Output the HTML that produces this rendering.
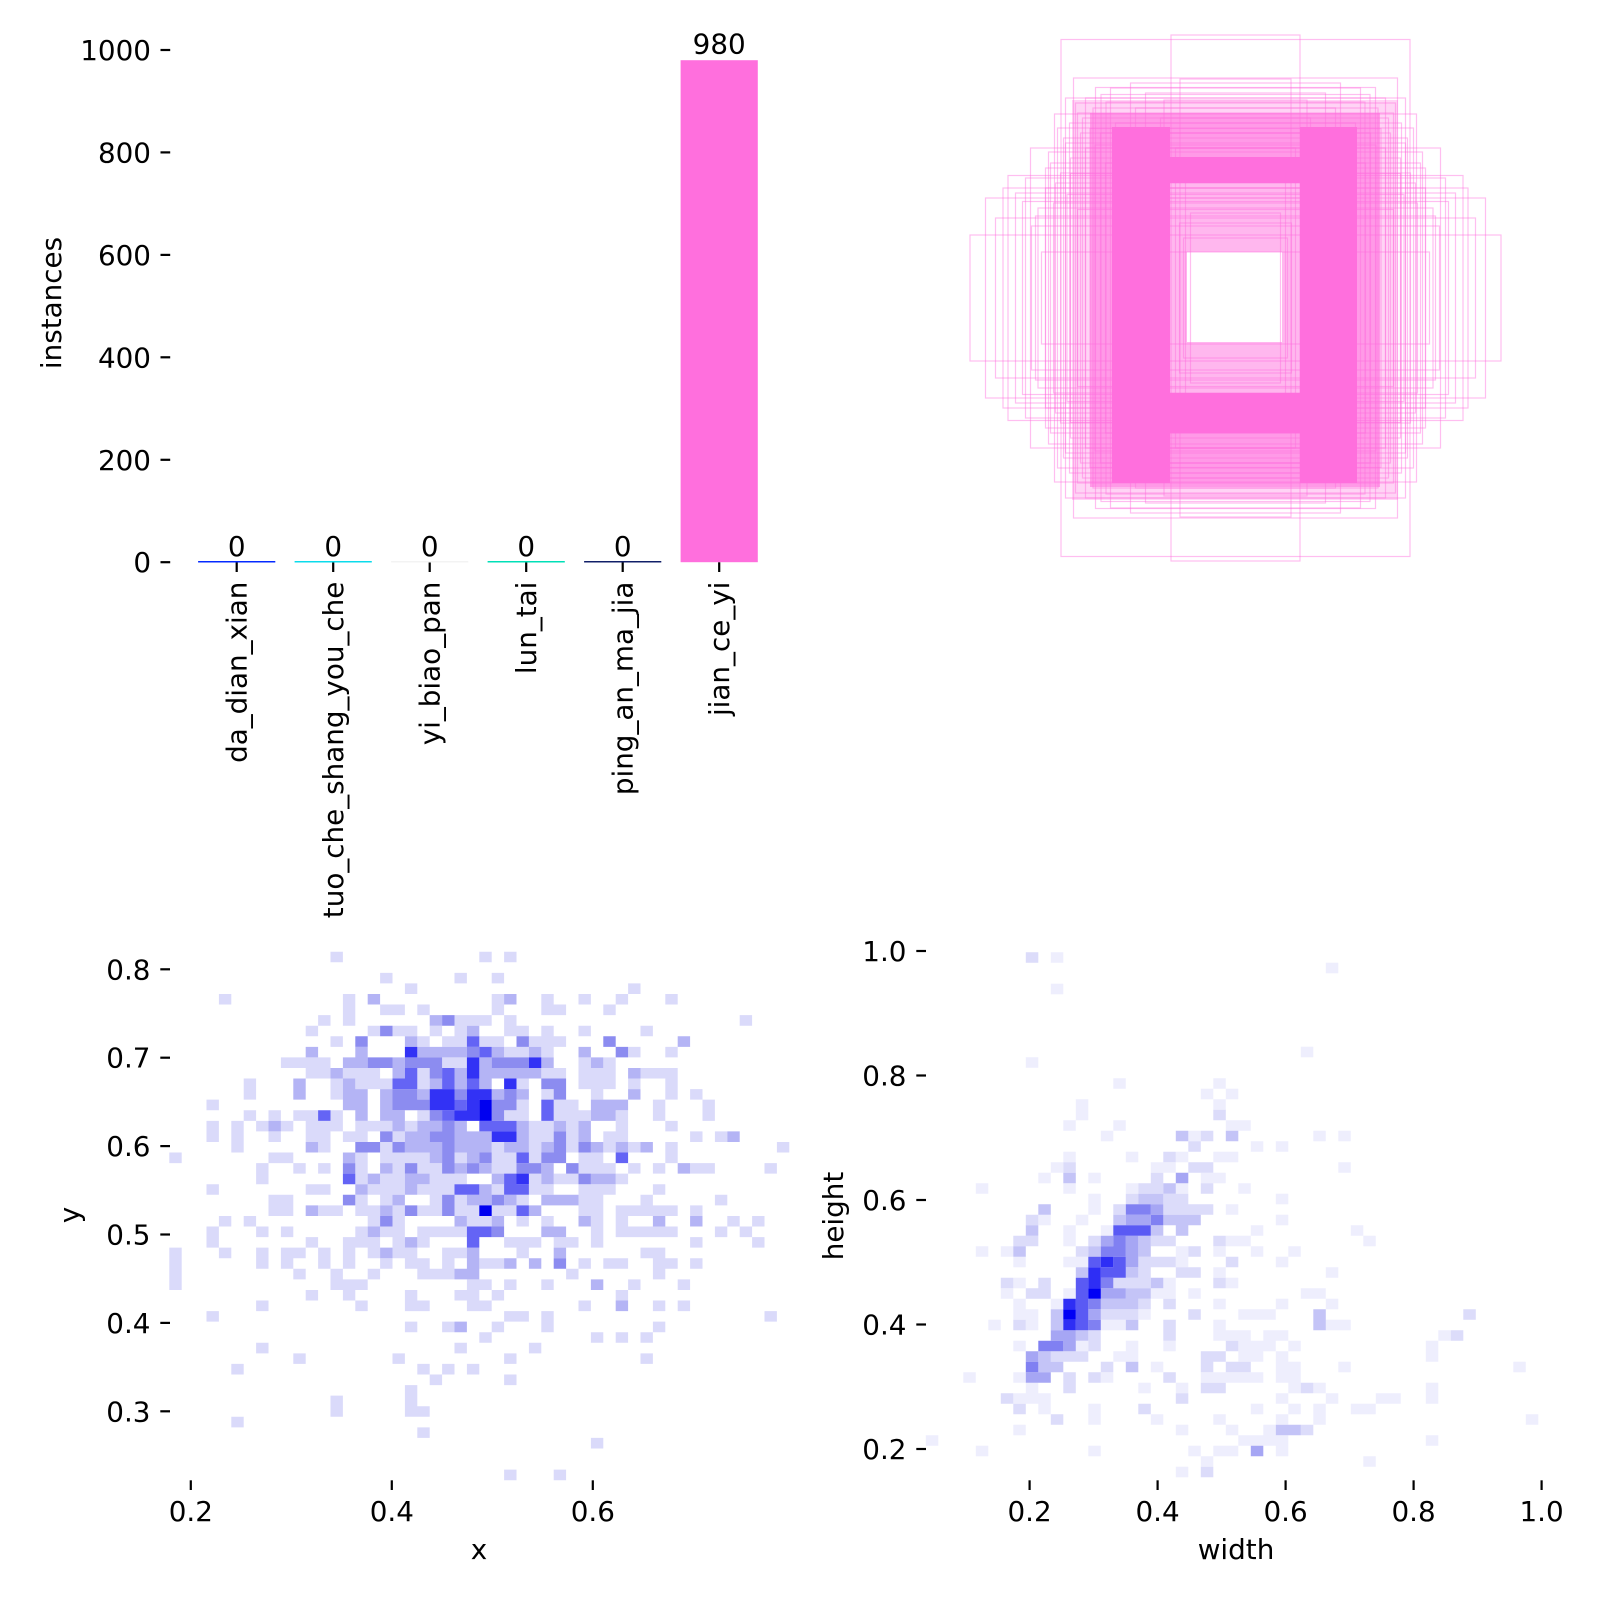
<!DOCTYPE html>
<html><head><meta charset="utf-8"><style>
html,body{margin:0;padding:0;background:#fff;}
svg{display:block;}
text{font-family:"DejaVu Sans","Liberation Sans",sans-serif;font-size:27.8px;fill:#000;}
</style></head><body>
<svg width="1600" height="1600" viewBox="0 0 1600 1600" xmlns="http://www.w3.org/2000/svg">
<rect width="1600" height="1600" fill="#fff"/>

<g stroke="#000" stroke-width="2.2">
<line x1="160.5" y1="562.2" x2="170.2" y2="562.2"/>
<line x1="160.5" y1="459.8" x2="170.2" y2="459.8"/>
<line x1="160.5" y1="357.3" x2="170.2" y2="357.3"/>
<line x1="160.5" y1="254.9" x2="170.2" y2="254.9"/>
<line x1="160.5" y1="152.4" x2="170.2" y2="152.4"/>
<line x1="160.5" y1="50" x2="170.2" y2="50"/>
<line x1="236.7" y1="562.2" x2="236.7" y2="572"/>
<line x1="333.2" y1="562.2" x2="333.2" y2="572"/>
<line x1="429.7" y1="562.2" x2="429.7" y2="572"/>
<line x1="526.2" y1="562.2" x2="526.2" y2="572"/>
<line x1="622.7" y1="562.2" x2="622.7" y2="572"/>
<line x1="719.2" y1="562.2" x2="719.2" y2="572"/>
</g>
<g text-anchor="end">
<text x="151" y="572.2">0</text>
<text x="151" y="469.8">200</text>
<text x="151" y="367.3">400</text>
<text x="151" y="264.9">600</text>
<text x="151" y="162.4">800</text>
<text x="151" y="60">1000</text>
</g>
<text transform="translate(61 303) rotate(-90)" text-anchor="middle">instances</text>

<rect x="680.6" y="60.2" width="77.2" height="502" fill="#FF6FDD"/>
<g stroke-width="1.5">
<line x1="198.1" y1="561.8" x2="275.3" y2="561.8" stroke="#042AFF"/>
<line x1="294.6" y1="561.8" x2="371.8" y2="561.8" stroke="#0BDBEB"/>
<line x1="391.1" y1="561.8" x2="468.3" y2="561.8" stroke="#F3F3F3"/>
<line x1="487.6" y1="561.8" x2="564.8" y2="561.8" stroke="#00DFB7"/>
<line x1="584.1" y1="561.8" x2="661.3" y2="561.8" stroke="#111F68"/>
</g>
<g text-anchor="middle">
<text x="236.7" y="556">0</text>
<text x="333.2" y="556">0</text>
<text x="429.7" y="556">0</text>
<text x="526.2" y="556">0</text>
<text x="622.7" y="556">0</text>
<text x="719.2" y="53.7">980</text>
</g>
<g text-anchor="end">
<text transform="translate(246.3 581.6) rotate(-90)">da_dian_xian</text>
<text transform="translate(342.8 581.6) rotate(-90)">tuo_che_shang_you_che</text>
<text transform="translate(439.3 581.6) rotate(-90)">yi_biao_pan</text>
<text transform="translate(535.8 581.6) rotate(-90)">lun_tai</text>
<text transform="translate(632.3 581.6) rotate(-90)">ping_an_ma_jia</text>
<text transform="translate(728.8 581.6) rotate(-90)">jian_ce_yi</text>
</g>

<path d="M1072 100H1398V500H1072ZM1090 113H1380V487H1090Z" fill="#FF6FDD" fill-opacity="0.3" fill-rule="evenodd"/>
<path d="M1090 113H1380V487H1090ZM1170 183H1300V393H1170Z" fill="#FF6FDD" fill-opacity="0.7" fill-rule="evenodd"/>
<path d="M1170 183H1300V393H1170ZM1187 252H1282V342H1187Z" fill="#FF6FDD" fill-opacity="0.5" fill-rule="evenodd"/>
<g fill="#FF6FDD">
<rect x="1112" y="127" width="58" height="356"/>
<rect x="1300" y="127" width="57" height="356"/>
<rect x="1127" y="157" width="206" height="26"/>
<rect x="1127" y="393" width="206" height="40"/>
</g>
<g transform="translate(1235.5 298)" fill="none" stroke="#FF6FDD" stroke-width="1.2" stroke-opacity="0.45">
<rect x="-265.5" y="-63" width="531" height="126"/>
<rect x="-232.5" y="-110" width="465" height="220"/>
<rect x="-213" y="-96.5" width="426" height="193"/>
<rect x="-204" y="-72" width="408" height="144"/>
<rect x="-194" y="-46" width="388" height="92"/>
<rect x="-174.5" y="-258.5" width="349" height="517"/>
<rect x="-64.5" y="-263" width="129" height="526"/>
<rect x="-162" y="-220" width="324" height="440"/>
<rect x="-187" y="-146" width="374" height="292"/>
<rect x="-181" y="-184" width="362" height="368"/>
<rect x="-140" y="-210.5" width="280" height="421"/>
<rect x="-55.5" y="-219" width="111" height="438"/>
<rect x="-90" y="-205" width="180" height="410"/>
<rect x="-71.5" y="-198" width="143" height="396"/>
<rect x="-134.5" y="-203.5" width="269" height="407"/>
<rect x="-129.5" y="-196" width="259" height="392"/>
<rect x="-153" y="-180" width="306" height="360"/>
<rect x="-165" y="-124.5" width="330" height="249"/>
<rect x="-145.5" y="-169.5" width="291" height="339"/>
<rect x="-140.5" y="-153" width="281" height="306"/>
<rect x="-158" y="-88.5" width="316" height="177"/>
<rect x="-168.5" y="-103.5" width="337" height="207"/>
<rect x="-120" y="-175" width="240" height="350"/>
<rect x="-110" y="-150" width="220" height="300"/>
<rect x="-100" y="-190" width="200" height="380"/>
<rect x="-150" y="-150" width="300" height="300"/>
<rect x="-125" y="-210" width="250" height="420"/>
<rect x="-175" y="-125" width="350" height="250"/>
<rect x="-80" y="-165" width="160" height="330"/>
<rect x="-95" y="-130" width="190" height="260"/>
<rect x="-115" y="-120" width="230" height="240"/>
<rect x="-135" y="-165" width="270" height="330"/>
<rect x="-142.5" y="-190" width="285" height="380"/>
<rect x="-105" y="-215" width="210" height="430"/>
<rect x="-75" y="-180" width="150" height="360"/>
<rect x="-60" y="-150" width="120" height="300"/>
<rect x="-50" y="-125" width="100" height="250"/>
<rect x="-85" y="-100" width="170" height="200"/>
<rect x="-45" y="-85" width="90" height="170"/>
<rect x="-70" y="-110" width="140" height="220"/>
<rect x="-130" y="-135" width="260" height="270"/>
<rect x="-155" y="-165" width="310" height="330"/>
<rect x="-170" y="-155" width="340" height="310"/>
<rect x="-180" y="-115" width="360" height="230"/>
<rect x="-190" y="-130" width="380" height="260"/>
<rect x="-197.5" y="-90" width="395" height="180"/>
<rect x="-220" y="-105" width="440" height="210"/>
<rect x="-227.5" y="-122.5" width="455" height="245"/>
<rect x="-240" y="-80" width="480" height="160"/>
<rect x="-250" y="-100" width="500" height="200"/>
<rect x="-205" y="-150" width="410" height="300"/>
<rect x="-210" y="-120" width="420" height="240"/>
<rect x="-160" y="-195" width="320" height="390"/>
<rect x="-166" y="-175" width="332" height="350"/>
<rect x="-170" y="-200" width="340" height="400"/>
<rect x="-158" y="-185" width="316" height="370"/>
<rect x="-150" y="-200" width="300" height="400"/>
<rect x="-172" y="-160" width="344" height="320"/>
<rect x="-165" y="-140" width="330" height="280"/>
<rect x="-178" y="-170" width="356" height="340"/>
<rect x="-185" y="-135" width="370" height="270"/>
<rect x="-190" y="-110" width="380" height="220"/>
<rect x="-200" y="-82" width="400" height="164"/>
<rect x="-182" y="-95" width="364" height="190"/>
<rect x="-52" y="-60" width="104" height="120"/>
<rect x="-56" y="-75" width="112" height="150"/>
</g>

<g transform="translate(169.3 951.7) scale(12.4 10.57)">
<path fill="#dadafa" d="M13 0h1v1h-1zM25 0h1v1h-1zM27 0h1v1h-1zM17 2h1v1h-1zM23 2h1v1h-1zM26 2h1v1h-1zM19 3h1v1h-1zM37 3h1v1h-1zM4 4h1v1h-1zM14 4h1v1h-1zM26 4h1v1h-1zM30 4h1v1h-1zM33 4h1v1h-1zM36 4h1v1h-1zM40 4h1v1h-1zM14 5h1v1h-1zM17 5h2v1h-2zM20 5h1v1h-1zM26 5h1v1h-1zM30 5h2v1h-2zM35 5h1v1h-1zM12 6h1v1h-1zM14 6h1v1h-1zM23 6h3v1h-3zM27 6h1v1h-1zM46 6h1v1h-1zM11 7h1v1h-1zM16 7h1v1h-1zM18 7h2v1h-2zM21 7h1v1h-1zM23 7h1v1h-1zM27 7h2v1h-2zM30 7h1v1h-1zM33 7h1v1h-1zM38 7h1v1h-1zM13 8h1v1h-1zM20 8h1v1h-1zM22 8h2v1h-2zM25 8h2v1h-2zM29 8h3v1h-3zM27 9h2v1h-2zM30 9h1v1h-1zM37 9h1v1h-1zM40 9h1v1h-1zM9 10h4v1h-4zM22 10h2v1h-2zM33 10h1v1h-1zM35 10h1v1h-1zM11 11h2v1h-2zM14 11h3v1h-3zM20 11h1v1h-1zM30 11h2v1h-2zM33 11h3v1h-3zM38 11h3v1h-3zM6 12h1v1h-1zM13 12h1v1h-1zM15 12h3v1h-3zM20 12h1v1h-1zM28 12h1v1h-1zM33 12h3v1h-3zM37 12h1v1h-1zM40 12h1v1h-1zM6 13h1v1h-1zM13 13h1v1h-1zM30 13h1v1h-1zM34 13h1v1h-1zM40 13h1v1h-1zM42 13h1v1h-1zM3 14h1v1h-1zM28 14h1v1h-1zM31 14h2v1h-2zM39 14h1v1h-1zM43 14h1v1h-1zM6 15h1v1h-1zM8 15h1v1h-1zM10 15h2v1h-2zM13 15h1v1h-1zM20 15h1v1h-1zM27 15h2v1h-2zM31 15h3v1h-3zM36 15h1v1h-1zM39 15h1v1h-1zM43 15h1v1h-1zM3 16h1v1h-1zM5 16h1v1h-1zM7 16h1v1h-1zM9 16h1v1h-1zM11 16h3v1h-3zM15 16h3v1h-3zM19 16h1v1h-1zM29 16h2v1h-2zM32 16h1v1h-1zM36 16h1v1h-1zM40 16h1v1h-1zM3 17h1v1h-1zM5 17h1v1h-1zM8 17h1v1h-1zM11 17h2v1h-2zM14 17h2v1h-2zM18 17h1v1h-1zM29 17h2v1h-2zM32 17h1v1h-1zM35 17h2v1h-2zM42 17h1v1h-1zM44 17h1v1h-1zM5 18h1v1h-1zM12 18h1v1h-1zM17 18h1v1h-1zM26 18h1v1h-1zM29 18h1v1h-1zM32 18h1v1h-1zM35 18h1v1h-1zM37 18h1v1h-1zM40 18h1v1h-1zM49 18h1v1h-1zM0 19h1v1h-1zM8 19h2v1h-2zM15 19h1v1h-1zM17 19h4v1h-4zM23 19h1v1h-1zM26 19h2v1h-2zM29 19h1v1h-1zM33 19h2v1h-2zM40 19h1v1h-1zM7 20h1v1h-1zM10 20h1v1h-1zM12 20h1v1h-1zM15 20h1v1h-1zM18 20h1v1h-1zM20 20h2v1h-2zM26 20h2v1h-2zM33 20h3v1h-3zM37 20h1v1h-1zM39 20h1v1h-1zM42 20h2v1h-2zM48 20h1v1h-1zM7 21h1v1h-1zM15 21h1v1h-1zM17 21h2v1h-2zM21 21h3v1h-3zM29 21h1v1h-1zM31 21h2v1h-2zM36 21h1v1h-1zM3 22h1v1h-1zM11 22h2v1h-2zM16 22h3v1h-3zM20 22h3v1h-3zM26 22h1v1h-1zM29 22h2v1h-2zM33 22h3v1h-3zM39 22h1v1h-1zM8 23h2v1h-2zM15 23h1v1h-1zM17 23h1v1h-1zM21 23h1v1h-1zM23 23h1v1h-1zM28 23h1v1h-1zM33 23h2v1h-2zM38 23h1v1h-1zM44 23h1v1h-1zM8 24h2v1h-2zM12 24h2v1h-2zM15 24h2v1h-2zM18 24h1v1h-1zM20 24h2v1h-2zM23 24h2v1h-2zM26 24h2v1h-2zM33 24h2v1h-2zM36 24h5v1h-5zM42 24h1v1h-1zM4 25h1v1h-1zM6 25h1v1h-1zM16 25h1v1h-1zM18 25h1v1h-1zM24 25h2v1h-2zM28 25h1v1h-1zM30 25h1v1h-1zM34 25h1v1h-1zM36 25h1v1h-1zM45 25h1v1h-1zM47 25h1v1h-1zM3 26h1v1h-1zM7 26h1v1h-1zM9 26h1v1h-1zM15 26h1v1h-1zM17 26h2v1h-2zM20 26h4v1h-4zM34 26h1v1h-1zM36 26h5v1h-5zM44 26h1v1h-1zM46 26h1v1h-1zM3 27h1v1h-1zM11 27h1v1h-1zM14 27h3v1h-3zM18 27h1v1h-1zM20 27h1v1h-1zM27 27h3v1h-3zM31 27h2v1h-2zM34 27h1v1h-1zM42 27h1v1h-1zM47 27h1v1h-1zM0 28h1v1h-1zM4 28h1v1h-1zM7 28h1v1h-1zM9 28h2v1h-2zM12 28h1v1h-1zM14 28h1v1h-1zM16 28h1v1h-1zM18 28h2v1h-2zM22 28h2v1h-2zM28 28h1v1h-1zM38 28h2v1h-2zM0 29h1v1h-1zM7 29h1v1h-1zM9 29h1v1h-1zM12 29h1v1h-1zM14 29h1v1h-1zM17 29h1v1h-1zM19 29h2v1h-2zM22 29h1v1h-1zM25 29h2v1h-2zM33 29h1v1h-1zM35 29h2v1h-2zM39 29h2v1h-2zM42 29h1v1h-1zM0 30h1v1h-1zM10 30h1v1h-1zM13 30h1v1h-1zM16 30h1v1h-1zM20 30h3v1h-3zM32 30h1v1h-1zM39 30h1v1h-1zM0 31h1v1h-1zM13 31h3v1h-3zM24 31h2v1h-2zM27 31h1v1h-1zM30 31h1v1h-1zM37 31h1v1h-1zM41 31h1v1h-1zM11 32h1v1h-1zM14 32h1v1h-1zM19 32h1v1h-1zM23 32h2v1h-2zM26 32h1v1h-1zM36 32h1v1h-1zM7 33h1v1h-1zM15 33h1v1h-1zM19 33h2v1h-2zM24 33h2v1h-2zM33 33h1v1h-1zM39 33h1v1h-1zM41 33h1v1h-1zM3 34h1v1h-1zM27 34h2v1h-2zM30 34h1v1h-1zM48 34h1v1h-1zM19 35h1v1h-1zM22 35h1v1h-1zM26 35h1v1h-1zM30 35h1v1h-1zM39 35h1v1h-1zM25 36h1v1h-1zM34 36h1v1h-1zM36 36h1v1h-1zM38 36h1v1h-1zM7 37h1v1h-1zM23 37h1v1h-1zM29 37h1v1h-1zM10 38h1v1h-1zM18 38h1v1h-1zM27 38h1v1h-1zM38 38h1v1h-1zM5 39h1v1h-1zM20 39h1v1h-1zM22 39h1v1h-1zM24 39h1v1h-1zM21 40h1v1h-1zM27 40h1v1h-1zM19 41h1v1h-1zM13 42h1v1h-1zM19 42h1v1h-1zM13 43h1v1h-1zM19 43h2v1h-2zM5 44h1v1h-1zM20 45h1v1h-1zM34 46h1v1h-1zM27 49h1v1h-1zM31 49h1v1h-1z"/>
<path fill="#b4b4f5" d="M16 4h1v1h-1zM27 4h1v1h-1zM21 6h1v1h-1zM24 7h1v1h-1zM19 8h1v1h-1zM41 8h1v1h-1zM11 9h1v1h-1zM15 9h1v1h-1zM20 9h4v1h-4zM26 9h1v1h-1zM29 9h1v1h-1zM33 9h1v1h-1zM14 10h2v1h-2zM18 10h1v1h-1zM25 10h1v1h-1zM30 10h1v1h-1zM34 10h1v1h-1zM13 11h1v1h-1zM18 11h1v1h-1zM23 11h1v1h-1zM25 11h5v1h-5zM37 11h1v1h-1zM10 12h1v1h-1zM14 12h1v1h-1zM21 12h1v1h-1zM23 12h1v1h-1zM25 12h1v1h-1zM10 13h1v1h-1zM14 13h2v1h-2zM17 13h1v1h-1zM20 13h1v1h-1zM26 13h1v1h-1zM28 13h1v1h-1zM37 13h1v1h-1zM14 14h2v1h-2zM17 14h1v1h-1zM34 14h3v1h-3zM15 15h1v1h-1zM17 15h2v1h-2zM34 15h2v1h-2zM8 16h1v1h-1zM18 16h1v1h-1zM20 16h2v1h-2zM23 16h1v1h-1zM28 16h1v1h-1zM31 16h1v1h-1zM33 16h1v1h-1zM19 17h2v1h-2zM23 17h3v1h-3zM28 17h1v1h-1zM33 17h1v1h-1zM45 17h1v1h-1zM11 18h1v1h-1zM19 18h3v1h-3zM23 18h3v1h-3zM27 18h2v1h-2zM30 18h1v1h-1zM34 18h1v1h-1zM36 18h1v1h-1zM38 18h1v1h-1zM14 19h1v1h-1zM21 19h1v1h-1zM24 19h1v1h-1zM17 20h1v1h-1zM23 20h1v1h-1zM25 20h1v1h-1zM30 20h1v1h-1zM41 20h1v1h-1zM16 21h1v1h-1zM19 21h2v1h-2zM26 21h1v1h-1zM30 21h1v1h-1zM34 21h2v1h-2zM15 22h1v1h-1zM19 22h1v1h-1zM25 22h1v1h-1zM18 23h1v1h-1zM24 23h2v1h-2zM27 23h1v1h-1zM30 23h3v1h-3zM11 24h1v1h-1zM17 24h1v1h-1zM29 24h1v1h-1zM23 25h1v1h-1zM26 25h1v1h-1zM33 25h1v1h-1zM39 25h1v1h-1zM42 25h1v1h-1zM16 26h1v1h-1zM30 26h2v1h-2zM19 27h1v1h-1zM17 28h1v1h-1zM24 28h1v1h-1zM31 28h1v1h-1zM24 29h1v1h-1zM27 29h1v1h-1zM29 29h1v1h-1zM23 30h2v1h-2zM34 31h1v1h-1zM36 33h1v1h-1zM23 35h1v1h-1z"/>
<path fill="#8c8cf0" d="M22 6h1v1h-1zM17 7h1v1h-1zM15 8h1v1h-1zM28 8h1v1h-1zM35 8h1v1h-1zM24 9h1v1h-1zM36 9h1v1h-1zM16 10h2v1h-2zM19 10h3v1h-3zM26 10h3v1h-3zM21 11h1v1h-1zM30 12h2v1h-2zM18 13h2v1h-2zM23 13h1v1h-1zM27 13h1v1h-1zM31 13h1v1h-1zM18 14h3v1h-3zM26 14h2v1h-2zM21 15h1v1h-1zM26 15h1v1h-1zM22 16h1v1h-1zM17 17h1v1h-1zM21 17h2v1h-2zM31 17h1v1h-1zM15 18h2v1h-2zM18 18h1v1h-1zM22 18h1v1h-1zM31 18h1v1h-1zM33 18h1v1h-1zM22 19h1v1h-1zM25 19h1v1h-1zM30 19h2v1h-2zM14 20h1v1h-1zM19 20h1v1h-1zM22 20h1v1h-1zM24 20h1v1h-1zM28 20h2v1h-2zM32 20h1v1h-1zM33 21h1v1h-1zM14 23h1v1h-1zM22 23h1v1h-1zM26 23h1v1h-1zM19 24h1v1h-1zM22 24h1v1h-1zM17 25h1v1h-1zM26 26h1v1h-1zM31 29h1v1h-1z"/>
<path fill="#6464f5" d="M24 8h1v1h-1zM25 9h1v1h-1zM19 11h1v1h-1zM22 11h1v1h-1zM18 12h2v1h-2zM22 12h1v1h-1zM24 12h1v1h-1zM23 14h1v1h-1zM30 14h1v1h-1zM12 15h1v1h-1zM22 15h1v1h-1zM30 15h1v1h-1zM25 16h3v1h-3zM28 19h1v1h-1zM36 19h1v1h-1zM14 21h1v1h-1zM27 21h1v1h-1zM23 22h2v1h-2zM27 22h2v1h-2zM28 24h1v1h-1zM24 26h2v1h-2zM24 27h1v1h-1z"/>
<path fill="#3232f5" d="M19 9h1v1h-1zM24 10h1v1h-1zM29 10h1v1h-1zM24 11h1v1h-1zM27 12h1v1h-1zM21 13h2v1h-2zM24 13h2v1h-2zM21 14h2v1h-2zM24 14h1v1h-1zM23 15h2v1h-2zM26 17h2v1h-2zM28 21h1v1h-1z"/>
<path fill="#0000f0" d="M25 14h1v1h-1zM25 15h1v1h-1zM25 24h1v1h-1z"/>
</g>
<g stroke="#000" stroke-width="2.2">
<line x1="160.3" y1="969.3" x2="170" y2="969.3"/>
<line x1="160.3" y1="1057.7" x2="170" y2="1057.7"/>
<line x1="160.3" y1="1146.1" x2="170" y2="1146.1"/>
<line x1="160.3" y1="1234.5" x2="170" y2="1234.5"/>
<line x1="160.3" y1="1322.9" x2="170" y2="1322.9"/>
<line x1="160.3" y1="1411.3" x2="170" y2="1411.3"/>
<line x1="190.8" y1="1480.3" x2="190.8" y2="1490"/>
<line x1="391.8" y1="1480.3" x2="391.8" y2="1490"/>
<line x1="592.8" y1="1480.3" x2="592.8" y2="1490"/>
</g>
<g text-anchor="end">
<text x="150.5" y="979.3">0.8</text>
<text x="150.5" y="1067.7">0.7</text>
<text x="150.5" y="1156.1">0.6</text>
<text x="150.5" y="1244.5">0.5</text>
<text x="150.5" y="1332.9">0.4</text>
<text x="150.5" y="1421.3">0.3</text>
</g>
<g text-anchor="middle">
<text x="190.8" y="1521">0.2</text>
<text x="391.8" y="1521">0.4</text>
<text x="592.8" y="1521">0.6</text>
<text x="479" y="1559">x</text>
</g>
<text transform="translate(79 1215) rotate(-90)" text-anchor="middle">y</text>

<g transform="translate(925.8 952.3) scale(12.5 10.5)">
<path fill="#eeeefd" d="M10 0h1v1h-1zM32 1h1v1h-1zM10 3h1v1h-1zM30 9h1v1h-1zM8 10h1v1h-1zM15 12h1v1h-1zM23 12h1v1h-1zM22 13h1v1h-1zM24 13h1v1h-1zM12 14h1v1h-1zM23 14h1v1h-1zM12 15h1v1h-1zM11 16h1v1h-1zM15 16h1v1h-1zM24 16h2v1h-2zM14 17h1v1h-1zM21 17h1v1h-1zM31 17h1v1h-1zM33 17h1v1h-1zM26 18h1v1h-1zM28 18h1v1h-1zM11 19h1v1h-1zM16 19h1v1h-1zM20 19h1v1h-1zM23 19h2v1h-2zM10 20h1v1h-1zM18 20h2v1h-2zM33 20h1v1h-1zM9 21h1v1h-1zM13 21h1v1h-1zM22 21h2v1h-2zM4 22h1v1h-1zM11 22h1v1h-1zM16 22h1v1h-1zM20 22h1v1h-1zM25 22h1v1h-1zM13 23h1v1h-1zM28 23h1v1h-1zM13 24h1v1h-1zM24 24h1v1h-1zM9 25h1v1h-1zM12 25h1v1h-1zM28 25h1v1h-1zM11 26h1v1h-1zM14 26h1v1h-1zM26 26h1v1h-1zM34 26h1v1h-1zM11 27h1v1h-1zM24 27h2v1h-2zM35 27h1v1h-1zM4 28h1v1h-1zM6 28h1v1h-1zM20 28h1v1h-1zM23 28h1v1h-1zM26 28h1v1h-1zM29 28h1v1h-1zM7 29h1v1h-1zM11 29h2v1h-2zM20 29h1v1h-1zM28 29h1v1h-1zM23 30h1v1h-1zM32 30h1v1h-1zM7 31h1v1h-1zM19 31h1v1h-1zM24 31h1v1h-1zM6 32h1v1h-1zM11 32h1v1h-1zM18 32h2v1h-2zM21 32h1v1h-1zM30 32h2v1h-2zM7 33h1v1h-1zM10 33h1v1h-1zM23 33h1v1h-1zM28 33h1v1h-1zM32 33h1v1h-1zM7 34h2v1h-2zM17 34h1v1h-1zM25 34h3v1h-3zM5 35h1v1h-1zM8 35h1v1h-1zM14 35h2v1h-2zM23 35h1v1h-1zM32 35h2v1h-2zM23 36h3v1h-3zM27 36h2v1h-2zM41 36h1v1h-1zM7 37h1v1h-1zM12 37h1v1h-1zM16 37h1v1h-1zM19 37h1v1h-1zM25 37h3v1h-3zM29 37h1v1h-1zM40 37h1v1h-1zM15 38h2v1h-2zM25 38h2v1h-2zM28 38h1v1h-1zM40 38h1v1h-1zM18 39h1v1h-1zM28 39h2v1h-2zM33 39h1v1h-1zM47 39h1v1h-1zM3 40h1v1h-1zM7 40h1v1h-1zM14 40h1v1h-1zM22 40h5v1h-5zM28 40h2v1h-2zM8 41h1v1h-1zM17 41h1v1h-1zM20 41h1v1h-1zM29 41h1v1h-1zM31 41h1v1h-1zM40 41h1v1h-1zM7 42h3v1h-3zM28 42h1v1h-1zM32 42h1v1h-1zM36 42h2v1h-2zM40 42h1v1h-1zM9 43h1v1h-1zM13 43h1v1h-1zM26 43h1v1h-1zM29 43h1v1h-1zM31 43h1v1h-1zM34 43h2v1h-2zM13 44h1v1h-1zM18 44h1v1h-1zM23 44h1v1h-1zM28 44h1v1h-1zM31 44h1v1h-1zM48 44h1v1h-1zM7 45h1v1h-1zM20 45h1v1h-1zM24 45h1v1h-1zM27 45h1v1h-1zM0 46h1v1h-1zM25 46h4v1h-4zM40 46h1v1h-1zM4 47h1v1h-1zM13 47h1v1h-1zM21 47h1v1h-1zM23 47h2v1h-2zM28 47h1v1h-1zM22 48h1v1h-1zM35 48h1v1h-1zM20 49h1v1h-1z"/>
<path fill="#dcdcfa" d="M8 0h1v1h-1zM23 15h1v1h-1zM22 17h1v1h-1zM21 18h1v1h-1zM19 19h1v1h-1zM11 20h1v1h-1zM21 20h2v1h-2zM18 21h1v1h-1zM17 22h2v1h-2zM22 22h1v1h-1zM16 23h1v1h-1zM19 23h2v1h-2zM15 24h1v1h-1zM19 24h4v1h-4zM8 25h1v1h-1zM7 27h2v1h-2zM13 27h1v1h-1zM18 27h2v1h-2zM23 27h1v1h-1zM12 28h1v1h-1zM21 28h1v1h-1zM17 29h3v1h-3zM24 29h1v1h-1zM17 30h1v1h-1zM20 30h2v1h-2zM6 31h1v1h-1zM9 31h1v1h-1zM15 31h3v1h-3zM23 31h1v1h-1zM8 32h2v1h-2zM17 33h1v1h-1zM19 33h1v1h-1zM14 34h3v1h-3zM21 34h1v1h-1zM43 34h1v1h-1zM7 35h1v1h-1zM19 35h1v1h-1zM13 36h1v1h-1zM19 36h1v1h-1zM42 36h1v1h-1zM13 37h1v1h-1zM24 37h1v1h-1zM10 38h3v1h-3zM22 38h2v1h-2zM14 39h1v1h-1zM22 39h1v1h-1zM24 39h2v1h-2zM11 40h1v1h-1zM13 40h1v1h-1zM19 40h1v1h-1zM11 41h1v1h-1zM22 41h2v1h-2zM30 41h1v1h-1zM6 42h1v1h-1zM20 42h1v1h-1zM7 43h1v1h-1zM17 43h1v1h-1zM10 44h1v1h-1zM30 45h1v1h-1zM22 49h1v1h-1z"/>
<path fill="#c4c4f7" d="M20 17h1v1h-1zM24 17h1v1h-1zM11 21h1v1h-1zM19 22h1v1h-1zM17 23h2v1h-2zM9 24h1v1h-1zM15 25h1v1h-1zM19 25h3v1h-3zM8 26h1v1h-1zM18 26h1v1h-1zM20 26h1v1h-1zM17 27h1v1h-1zM7 28h1v1h-1zM13 28h1v1h-1zM17 28h1v1h-1zM12 30h1v1h-1zM16 30h1v1h-1zM18 31h1v1h-1zM16 32h2v1h-2zM14 33h3v1h-3zM10 34h1v1h-1zM31 34h1v1h-1zM10 35h1v1h-1zM16 35h1v1h-1zM31 35h1v1h-1zM12 36h1v1h-1zM9 38h1v1h-1zM9 39h2v1h-2zM16 39h1v1h-1zM28 45h2v1h-2z"/>
<path fill="#a6a6f4" d="M20 21h1v1h-1zM18 24h1v1h-1zM16 25h2v1h-2zM14 27h1v1h-1zM16 27h1v1h-1zM16 28h1v1h-1zM16 29h1v1h-1zM14 32h2v1h-2zM13 34h1v1h-1zM10 36h2v1h-2zM11 37h1v1h-1zM8 38h1v1h-1zM8 40h2v1h-2zM26 47h1v1h-1z"/>
<path fill="#8080f2" d="M16 24h2v1h-2zM18 25h1v1h-1zM15 27h1v1h-1zM14 28h2v1h-2zM14 31h1v1h-1zM13 33h1v1h-1zM13 35h1v1h-1zM9 37h2v1h-2zM8 39h1v1h-1z"/>
<path fill="#5a5af4" d="M15 26h3v1h-3zM13 29h1v1h-1zM15 29h1v1h-1zM14 30h2v1h-2zM12 31h1v1h-1zM12 32h1v1h-1zM12 33h1v1h-1zM12 34h1v1h-1zM12 35h1v1h-1z"/>
<path fill="#2e2ef5" d="M14 29h1v1h-1zM13 30h1v1h-1zM13 31h1v1h-1zM11 33h1v1h-1zM11 35h1v1h-1z"/>
<path fill="#0000f5" d="M13 32h1v1h-1zM11 34h1v1h-1z"/>
</g>
<g stroke="#000" stroke-width="2.2">
<line x1="916.3" y1="951" x2="926" y2="951"/>
<line x1="916.3" y1="1075.5" x2="926" y2="1075.5"/>
<line x1="916.3" y1="1200" x2="926" y2="1200"/>
<line x1="916.3" y1="1324.5" x2="926" y2="1324.5"/>
<line x1="916.3" y1="1449" x2="926" y2="1449"/>
<line x1="1029.6" y1="1480.3" x2="1029.6" y2="1490"/>
<line x1="1157.6" y1="1480.3" x2="1157.6" y2="1490"/>
<line x1="1285.6" y1="1480.3" x2="1285.6" y2="1490"/>
<line x1="1413.6" y1="1480.3" x2="1413.6" y2="1490"/>
<line x1="1541.6" y1="1480.3" x2="1541.6" y2="1490"/>
</g>
<g text-anchor="end">
<text x="906.5" y="961">1.0</text>
<text x="906.5" y="1085.5">0.8</text>
<text x="906.5" y="1210">0.6</text>
<text x="906.5" y="1334.5">0.4</text>
<text x="906.5" y="1459">0.2</text>
</g>
<g text-anchor="middle">
<text x="1029.6" y="1521">0.2</text>
<text x="1157.6" y="1521">0.4</text>
<text x="1285.6" y="1521">0.6</text>
<text x="1413.6" y="1521">0.8</text>
<text x="1541.6" y="1521">1.0</text>
<text x="1236" y="1559">width</text>
</g>
<text transform="translate(843 1216) rotate(-90)" text-anchor="middle">height</text>
</svg>
</body></html>
